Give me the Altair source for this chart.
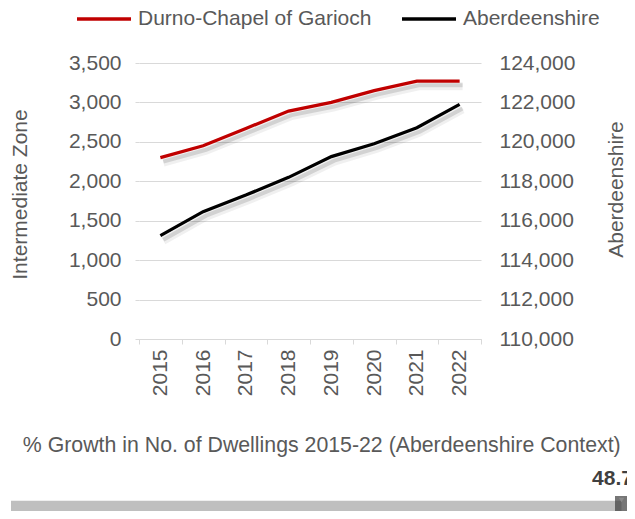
import altair as alt
import pandas as pd

# ---- data ----
years = ["2015", "2016", "2017", "2018", "2019", "2020", "2021", "2022"]
durno = [2300, 2450, 2670, 2890, 3000, 3150, 3270, 3270]
aberdeenshire = [115240, 116460, 117300, 118200, 119250, 119900, 120720, 121900]
series_names = ["Durno-Chapel of Garioch", "Aberdeenshire"]
left_ticks = [0, 500, 1000, 1500, 2000, 2500, 3000, 3500]
right_ticks = [110000, 112000, 114000, 116000, 118000, 120000, 122000, 124000]

context_title = ["% Growth in No. of Dwellings 2015-22 (Aberdeenshire Context)"]
growth_track_start = [0.0]
growth_track_end = [48.7]
zone_growth = [48.7]
zone_growth_label = ["48.7"]

FONT = "Liberation Sans"
TXT = "#595959"
GRID = "#d9d9d9"

df = pd.DataFrame({"year": years, "durno": durno, "ab": aberdeenshire})

x_enc = alt.X(
    "year:O",
    scale=alt.Scale(type="band", paddingInner=0, paddingOuter=0),
    bandPosition=0.5,
    axis=alt.Axis(
        title=None, labelAngle=270, labelFontSize=21, labelColor=TXT, labelFont=FONT,
        tickBand="extent", tickColor=GRID, tickSize=5, domainColor=GRID,
        labelPadding=5, grid=False,
    ),
)

y_left = alt.Y(
    "durno:Q",
    scale=alt.Scale(domain=[0, 3500]),
    axis=alt.Axis(
        values=left_ticks, format=",.0f", title="Intermediate Zone",
        titleFontSize=21, titleFont=FONT, titleColor=TXT, titleFontWeight="normal",
        labelFontSize=21, labelFont=FONT, labelColor=TXT,
        tickColor=GRID, tickSize=4, domain=False, gridColor=GRID,
        labelPadding=14, titlePadding=38, titleY=131,
    ),
)

y_right = alt.Y(
    "ab:Q",
    scale=alt.Scale(domain=[110000, 124000]),
    axis=alt.Axis(
        orient="right", values=right_ticks, format=",.0f", title="Aberdeenshire",
        titleFontSize=21, titleFont=FONT, titleColor=TXT, titleFontWeight="normal",
        titleAngle=270, titleBaseline="top", titleY=126,
        labelFontSize=21, labelFont=FONT, labelColor=TXT,
        ticks=False, domain=False, grid=False, labelPadding=18, titlePadding=31,
    ),
)

color_scale = alt.Scale(domain=series_names, range=["#C00000", "#000000"])
legend = alt.Legend(
    orient="none", legendX=-46, legendY=-55, direction="horizontal", title=None,
    symbolType="M-3,0H3", symbolSize=324, symbolStrokeWidth=3.5,
    labelFontSize=21, labelFont=FONT, labelColor=TXT, labelOffset=23, labelLimit=0,
    columnPadding=23, padding=0,
)
color_enc = alt.Color("series:N", scale=color_scale, legend=legend)

base = alt.Chart(df)

def shadow(y):
    s1 = base.mark_line(color="#000000", opacity=0.06, strokeWidth=8, xOffset=3, yOffset=5).encode(x=x_enc, y=y)
    s2 = base.mark_line(color="#000000", opacity=0.12, strokeWidth=4, xOffset=3, yOffset=4).encode(x=x_enc, y=y)
    return [s1, s2]

red_line = base.transform_calculate(series=f'"{series_names[0]}"').mark_line(strokeWidth=3.25).encode(
    x=x_enc, y=y_left, color=color_enc,
)
black_line = base.transform_calculate(series=f'"{series_names[1]}"').mark_line(strokeWidth=3.25).encode(
    x=x_enc, y=y_right, color=color_enc,
)

left_layer = alt.layer(*shadow(y_left), red_line)
right_layer = alt.layer(*shadow(y_right), black_line)
top = alt.layer(left_layer, right_layer).resolve_scale(y="independent")

# ---- bottom context bar (own scales, below the plot) ----
bdf = pd.DataFrame({
    "start": growth_track_start, "end": growth_track_end,
    "value": zone_growth, "label": zone_growth_label, "title": context_title,
    "y0": [0.0], "y1": [1.0], "ymid": [0.5],
})
bx = alt.Scale(domain=[0, 48.7], range=[-128, 482.5])
by = alt.Scale(domain=[0, 1], range=[450.3, 437.7])
bbase = alt.Chart(bdf)
track = bbase.mark_rect(color="#bfbfbf").encode(
    x=alt.X("start:Q", scale=bx, axis=None), x2="end:Q",
    y=alt.Y("y0:Q", scale=by, axis=None), y2="y1:Q",
)
marker = bbase.mark_tick(color="#3c3c3c", thickness=13, size=26, orient="vertical", yOffset=2).encode(
    x=alt.X("value:Q", scale=bx, axis=None), y=alt.Y("ymid:Q", scale=by, axis=None)
)
tri = bbase.mark_point(shape="triangle-down", filled=True, color="#8a8a8a", size=30, yOffset=-7, opacity=1).encode(
    x=alt.X("value:Q", scale=bx, axis=None), y=alt.Y("ymid:Q", scale=by, axis=None)
)
vtext = bbase.mark_text(fontSize=21, font=FONT, fontWeight="bold", color="#404040", dx=-9, dy=-28).encode(
    x=alt.X("value:Q", scale=bx, axis=None), y=alt.Y("ymid:Q", scale=by, axis=None), text="label:N"
)
ctitle = bbase.transform_calculate(mid="(datum.start + datum.end) / 2").mark_text(
    fontSize=21.3, font=FONT, color=TXT, baseline="alphabetic", dx=5.5, dy=-55
).encode(
    x=alt.X("mid:Q", scale=bx, axis=None), y=alt.Y("ymid:Q", scale=by, axis=None), text="title:N"
)
bottom = alt.layer(track, marker, tri, vtext, ctitle)

chart = alt.layer(top, bottom).resolve_scale(x="independent", y="independent").properties(
    width=342, height=276,
    autosize=alt.AutoSizeParams(type="none"),
    padding={"left": 131, "top": 55, "right": 146, "bottom": 172},
    background="white",
).configure_view(stroke=None)

chart.save("out.html", embed_options={"renderer": "svg", "actions": False})
